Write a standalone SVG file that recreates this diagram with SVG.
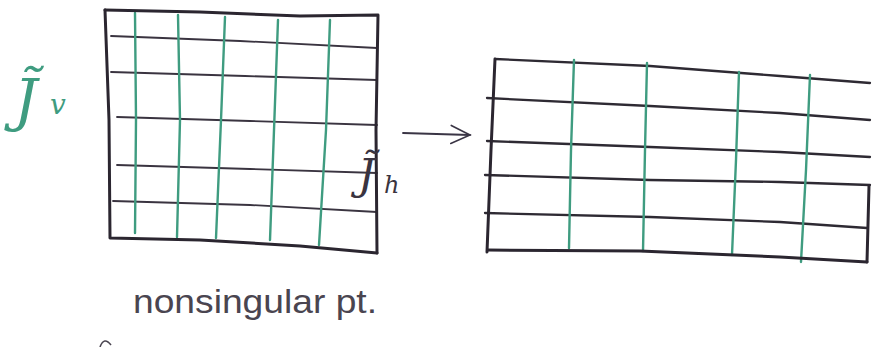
<svg xmlns="http://www.w3.org/2000/svg" width="872" height="347" viewBox="0 0 872 347">
<defs>
<style>
.frame{fill:none;stroke:#2b2630;stroke-width:3;stroke-linecap:round;stroke-linejoin:round}
.hline{fill:none;stroke:#3a3440;stroke-width:1.8;stroke-linecap:round}
.hline2{fill:none;stroke:#2e2a33;stroke-width:2.3;stroke-linecap:round}
.vline{fill:none;stroke:#3f9c80;stroke-width:2.4;stroke-linecap:round}
.hand{font-family:"DejaVu Serif","Liberation Serif",serif;font-style:italic}
.label{font-family:"Liberation Sans","DejaVu Sans",sans-serif;fill:#4a4550}
</style>
<marker id="open" markerWidth="24" markerHeight="24" refX="20" refY="10" orient="auto" markerUnits="userSpaceOnUse">
<path d="M1,1 L20,10 L1,19" fill="none" stroke="#3a3545" stroke-width="1.6" stroke-linecap="round"/>
</marker>
</defs>
<rect width="872" height="347" fill="#ffffff"/>

<g id="left-grid">
<path class="hline" d="M111,36 L240,41 L377,48"/>
<path class="hline" d="M111,72 L245,76 L377,80"/>
<path class="hline" d="M117,117 L250,121 L377,125"/>
<path class="hline" d="M117,165 L250,169 L377,173"/>
<path class="hline" d="M113,201 L250,205 L377,212"/>
<path class="vline" d="M135,13 L136,120 L135,233"/>
<path class="vline" d="M178,15 L180,120 L177,237"/>
<path class="vline" d="M225,17 L221,120 L216,238"/>
<path class="vline" d="M278,20 L274,130 L270,240"/>
<path class="vline" d="M330,20 L326,130 L319,245"/>
<path class="frame" d="M105,10 L200,12 L300,16 L378,15 L376,130 L377,253"/>
<path class="frame" d="M105,10 L109,120 L110,238 L200,240 L300,246 L377,253"/>
</g>

<g id="right-grid">
<path class="hline2" d="M495,59 L650,66 L780,76 L870,83"/>
<path class="hline2" d="M487,98 L650,106 L780,113 L870,120"/>
<path class="hline2" d="M487,141 L650,147 L780,152 L870,157"/>
<path class="hline2" d="M485,175 L650,180 L780,182 L870,185"/>
<path class="hline2" d="M485,213 L650,217 L780,222 L867,228"/>
<path class="vline" d="M574,60 L571,150 L569,248"/>
<path class="vline" d="M647,63 L645,150 L643,251"/>
<path class="vline" d="M739,72 L736,160 L732,255"/>
<path class="vline" d="M810,75 L806,170 L801,262"/>
<path class="frame" d="M495,59 L491,150 L487,252"/>
<path class="frame" d="M488,250 L640,251 L780,257 L867,262"/>
<path class="frame" d="M869,186 L867,262"/>
</g>

<g id="connectors">
<path d="M403,133 L470,135" fill="none" stroke="#3a3545" stroke-width="1.8" stroke-linecap="round" marker-end="url(#open)"/>
</g>

<g id="label-jv">
<text class="hand" x="14" y="120" font-size="58" fill="#3f9c80">J̃</text>
<text class="hand" x="50" y="114" font-size="28" fill="#3f9c80">v</text>
</g>

<g id="label-jh">
<text class="hand" x="358" y="189" font-size="42" fill="#3a3440">J̃</text>
<text class="hand" x="384" y="193" font-size="24" fill="#3a3440">h</text>
</g>

<g id="caption">
<text class="label" x="133" y="313" font-size="34" textLength="244" lengthAdjust="spacingAndGlyphs">nonsingular pt.</text>
<path d="M100,347 Q104,336 111,345" fill="none" stroke="#4a4550" stroke-width="1.6"/>
</g>
</svg>
